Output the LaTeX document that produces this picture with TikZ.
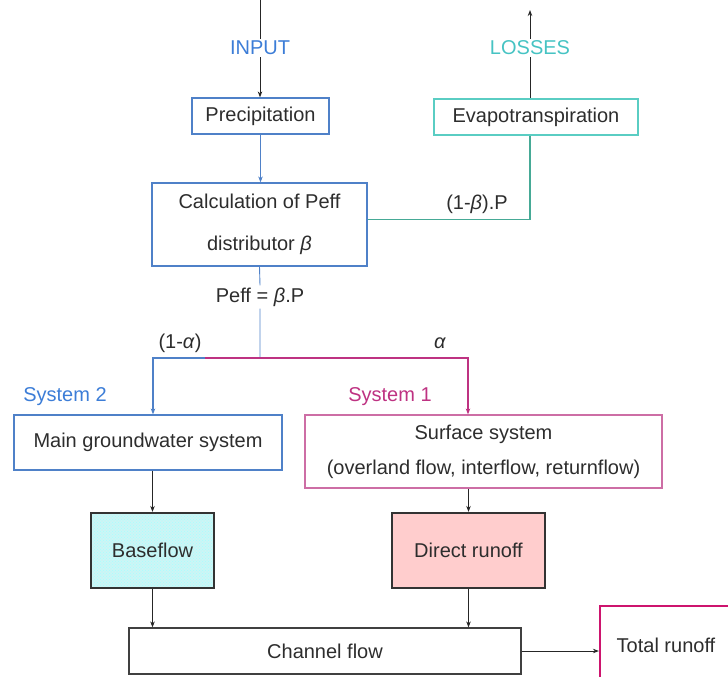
\documentclass[tikz,border=0pt]{standalone}
\usepackage{fontspec}
\setmainfont{Liberation Sans}
\usetikzlibrary{patterns,positioning,arrows.meta}
\definecolor{txtgray}{RGB}{45,45,45}
\definecolor{boxblue}{RGB}{79,129,200}
\definecolor{inblue}{RGB}{60,125,215}
\definecolor{lossteal}{RGB}{70,195,195}
\definecolor{evapteal}{RGB}{90,205,195}
\definecolor{lineteal}{RGB}{70,170,150}
\definecolor{sysmag}{RGB}{190,50,130}
\definecolor{surfmag}{RGB}{205,110,165}
\definecolor{totmag}{RGB}{205,20,110}
\definecolor{baseblue}{RGB}{205,245,245}
\definecolor{directpink}{RGB}{255,205,205}
\tikzstyle{box}=[draw, line width=1.2pt, minimum height=36pt, inner sep=2pt,
  text=txtgray, font=\fontsize{20}{24}\selectfont]
\tikzstyle{heavy}=[box, draw=black!80, line width=2.2pt, minimum height=75pt]
\tikzstyle{lbl}=[inner sep=2pt, font=\fontsize{20}{24}\selectfont]
\tikzstyle{flow}=[->, line width=0.9pt, black!85]

\begin{document}
\begin{tikzpicture}[>={Stealth[length=6pt,width=4.5pt]}, x=1pt, y=-1pt]
  \useasboundingbox (0,0) rectangle (728,677);

  % top of the chain
  \node[lbl, text=inblue]            (input) at (260,48)  {INPUT};
  \node[lbl, text=lossteal]          (loss)  at (530,48)  {LOSSES};
  \node[box, draw=boxblue, minimum width=137pt]  (precip) at (260.5,116) {Precipitation};
  \node[box, draw=evapteal, minimum width=204pt] (evap)   at (536,117)   {Evapotranspiration};
  \node[box, draw=boxblue, minimum width=215pt, minimum height=83pt, align=center,
    font=\fontsize{20}{42}\selectfont] (calc) at (259.5,224.5)
    {Calculation of Peff\\distributor \textit{β}};
  \coordinate (intop)   at (260,0);
  \coordinate (losstop) at (530,10);

  \draw[flow, -] (intop) -- (input.north);
  \draw[flow] (input.south) -- (input.south |- precip.north);
  \draw[flow] (loss.north) -- (losstop);
  \draw[flow, -] (loss.south) -- (loss.south |- evap.north);
  \draw[->, line width=0.9pt, boxblue] (precip.south) -- (precip.south |- calc.north);
  \draw[line width=1.2pt, lineteal] (evap.south -| loss.south) |- ([yshift=5pt]calc.east);
  \node[lbl, text=txtgray] (betap) at (477,204) {(1-\textit{β}).P};

  % split of Peff
  \node[lbl, text=txtgray] (peff) at (260,297) {Peff = \textit{β}.P};
  \coordinate (split)    at (260,358);
  \coordinate (leftend)  at (153,358);
  \coordinate (magstart) at (205,358);
  \coordinate (rightend) at (468,358);
  \draw[boxblue, line width=0.9pt] (calc.south) -- (peff.north) (peff.south) -- (split);

  \node[lbl, text=txtgray] (oneal) at (180,343) {(1-\textit{α})};
  \node[lbl, text=txtgray] (al)    at (440,343) {\textit{α}};
  \node[lbl, text=inblue]  (sys2)  at (65,397)  {System 2};
  \node[lbl, text=sysmag]  (sys1)  at (390,397) {System 1};

  \node[box, draw=boxblue, minimum width=268pt, minimum height=55pt] (gw) at (148,442.5)
    {Main groundwater system};
  \node[box, draw=surfmag, minimum width=357pt, minimum height=73pt, align=center,
    font=\fontsize{20}{35}\selectfont] (surf) at (483.5,451.5)
    {Surface system\\(overland flow, interflow, returnflow)};

  \draw[->, boxblue, line width=1.1pt] (split) -- (leftend) -- (leftend |- gw.north);
  \draw[->, sysmag, line width=1.1pt] (magstart) -- (rightend) -- (rightend |- surf.north);

  % runoff components
  \node[heavy, minimum width=123pt, preaction={fill=baseblue},
    pattern=crosshatch dots, pattern color=cyan!35] (base) at (152.5,550.5) {Baseflow};
  \node[heavy, minimum width=153pt, fill=directpink] (direct) at (468.5,550.5) {Direct runoff};
  \node[box, draw=black!75, minimum width=392pt, minimum height=46pt] (channel) at (325,651)
    {Channel flow};
  \node[box, draw=totmag, line width=2.2pt, minimum width=132pt, minimum height=78pt]
    (total) at (666,645) {Total runoff};

  \draw[flow] (gw.south -| base) -- (base.north);
  \draw[flow] (surf.south -| direct) -- (direct.north);
  \draw[flow] (base.south) -- (base.south |- channel.north);
  \draw[flow] (direct.south) -- (direct.south |- channel.north);
  \draw[flow] (channel.east) -- (channel.east -| total.west);
\end{tikzpicture}
\end{document}
